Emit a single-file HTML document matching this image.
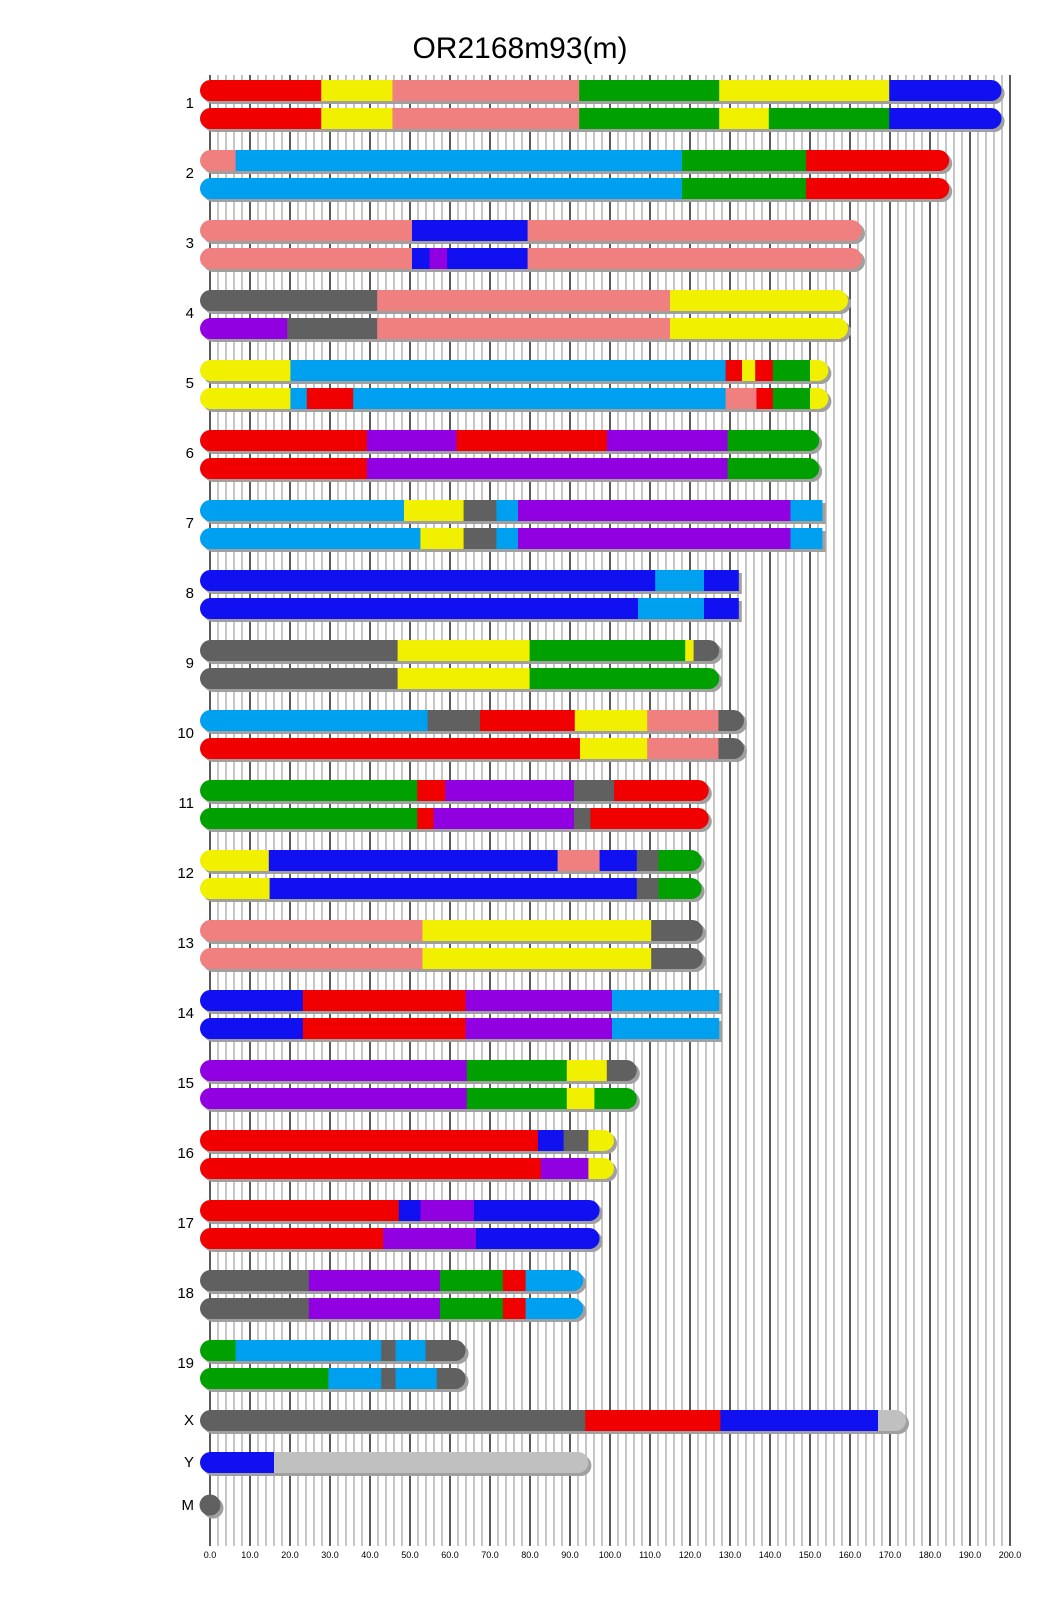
<!DOCTYPE html>
<html><head><meta charset="utf-8"><style>
html,body{margin:0;padding:0;background:#fff;}
svg{display:block;font-family:"Liberation Sans",sans-serif;}
</style></head><body>
<svg id="s" width="1040" height="1616" viewBox="0 0 1040 1616" xmlns="http://www.w3.org/2000/svg">
<g id="grid"></g>
<g id="bars"></g>
<text x="520" y="58" font-size="30" text-anchor="middle" fill="#000">OR2168m93(m)</text>
<g font-size="15" text-anchor="end" fill="#000">
<text x="194" y="108">1</text><text x="194" y="178">2</text><text x="194" y="248">3</text><text x="194" y="318">4</text>
<text x="194" y="388">5</text><text x="194" y="458">6</text><text x="194" y="528">7</text><text x="194" y="598">8</text>
<text x="194" y="668">9</text><text x="194" y="738">10</text><text x="194" y="808">11</text><text x="194" y="878">12</text>
<text x="194" y="948">13</text><text x="194" y="1018">14</text><text x="194" y="1088">15</text><text x="194" y="1158">16</text>
<text x="194" y="1228">17</text><text x="194" y="1298">18</text><text x="194" y="1368">19</text>
<text x="194" y="1425">X</text><text x="194" y="1467">Y</text><text x="194" y="1510">M</text>
</g>
<g font-size="9" text-anchor="middle" fill="#000">
<text x="210" y="1558">0.0</text><text x="250" y="1558">10.0</text><text x="290" y="1558">20.0</text><text x="330" y="1558">30.0</text>
<text x="370" y="1558">40.0</text><text x="410" y="1558">50.0</text><text x="450" y="1558">60.0</text><text x="490" y="1558">70.0</text>
<text x="530" y="1558">80.0</text><text x="570" y="1558">90.0</text><text x="610" y="1558">100.0</text><text x="650" y="1558">110.0</text>
<text x="690" y="1558">120.0</text><text x="730" y="1558">130.0</text><text x="770" y="1558">140.0</text><text x="810" y="1558">150.0</text>
<text x="850" y="1558">160.0</text><text x="890" y="1558">170.0</text><text x="930" y="1558">180.0</text><text x="970" y="1558">190.0</text>
<text x="1010" y="1558">200.0</text>
</g>
</svg>
<script>
var NS="http://www.w3.org/2000/svg";
function el(t,a,p){var e=document.createElementNS(NS,t);for(var k in a)e.setAttribute(k,a[k]);p.appendChild(e);return e;}
var grid=document.getElementById('grid');
for(var u=0;u<=200;u+=2){var x=210+u*4;var major=(u%10===0);
 el('line',{x1:x,x2:x,y1:75,y2:1546,stroke:major?'#000':'#a8a8a8','stroke-width':1.3},grid);}
var C={r:'#f00000',y:'#f0f000',s:'#f08080',g:'#00a000',b:'#1010f0',k:'#00a0f0',p:'#9000e0',d:'#606060',l:'#c0c0c0'};
var rows=[
[80,1,[['r',27.8],['y',45.6],['s',92.3],['g',127.3],['y',169.8],['b',197.9]]],
[108,1,[['r',27.8],['y',45.6],['s',92.3],['g',127.3],['y',139.7],['g',169.8],['b',197.9]]],
[150,1,[['s',6.4],['k',118],['g',149],['r',184.8]]],
[178,1,[['k',118],['g',149],['r',184.8]]],
[220,1,[['s',50.5],['b',79.4],['s',163]]],
[248,1,[['s',50.5],['b',54.9],['p',59.3],['b',79.4],['s',163]]],
[290,1,[['d',41.8],['s',115],['y',159.5]]],
[318,1,[['p',19.3],['d',41.8],['s',115],['y',159.5]]],
[360,1,[['y',20.1],['k',128.9],['r',133],['y',136.3],['r',140.7],['g',150],['y',154.6]]],
[388,1,[['y',20.1],['k',24.2],['r',35.8],['k',128.9],['s',136.6],['r',140.7],['g',150],['y',154.6]]],
[430,1,[['r',39.2],['p',61.6],['r',99.2],['p',129.4],['g',152.3]]],
[458,1,[['r',39.2],['p',129.4],['g',152.3]]],
[500,0,[['k',48.5],['y',63.4],['d',71.6],['k',77],['p',145.1],['k',153.1]]],
[528,0,[['k',52.6],['y',63.4],['d',71.6],['k',77],['p',145.1],['k',153.1]]],
[570,0,[['b',111.3],['k',123.5],['b',132.2]]],
[598,0,[['b',107],['k',123.5],['b',132.2]]],
[640,1,[['d',46.9],['y',79.9],['g',118.8],['y',120.9],['d',127.3]]],
[668,1,[['d',46.9],['y',79.9],['g',127.3]]],
[710,1,[['k',54.4],['d',67.5],['r',91.2],['y',109.3],['s',127.1],['d',133.5]]],
[738,1,[['r',92.5],['y',109.3],['s',127.1],['d',133.5]]],
[780,1,[['g',51.8],['r',58.8],['p',91],['d',101],['r',124.7]]],
[808,1,[['g',51.8],['r',55.9],['p',91],['d',95.1],['r',124.7]]],
[850,1,[['y',14.7],['b',86.9],['s',97.4],['b',106.7],['d',112.1],['g',122.9]]],
[878,1,[['y',14.9],['b',106.7],['d',112.1],['g',122.9]]],
[920,1,[['s',53.1],['y',110.3],['d',123.2]]],
[948,1,[['s',53.1],['y',110.3],['d',123.2]]],
[990,0,[['b',23.2],['r',63.9],['p',100.5],['k',127.3]]],
[1018,0,[['b',23.2],['r',63.9],['p',100.5],['k',127.3]]],
[1060,1,[['p',64.2],['g',89.2],['y',99.2],['d',106.7]]],
[1088,1,[['p',64.2],['g',89.2],['y',96.1],['g',106.7]]],
[1130,1,[['r',82],['b',88.4],['d',94.6],['y',101]]],
[1158,1,[['r',82.7],['p',94.6],['y',101]]],
[1200,1,[['r',47.2],['b',52.6],['p',66],['b',97.4]]],
[1228,1,[['r',43.3],['p',66.5],['b',97.4]]],
[1270,1,[['d',24.7],['p',57.5],['g',73.2],['r',78.9],['k',93.3]]],
[1298,1,[['d',24.7],['p',57.5],['g',73.2],['r',78.9],['k',93.3]]],
[1340,1,[['g',6.4],['k',42.8],['d',46.4],['k',53.9],['d',63.9]]],
[1368,1,[['g',29.6],['k',42.8],['d',46.4],['k',56.7],['d',63.9]]],
[1410,1,[['d',93.8],['r',127.6],['b',167],['l',174]]],
[1452,1,[['b',16],['l',94.6]]]
];
var bars=document.getElementById('bars');var H=21;var L=200;
rows.forEach(function(r,i){
 var y=r[0],round=r[1],segs=r[2];var end=210+segs[segs.length-1][1]*4;
 var id='c'+i;var cp=el('clipPath',{id:id},bars);
 var d='M'+(L+10.5)+','+y+' H'+(round?end-10.5:end)+(round?' A10.5,10.5 0 0 1 '+(end-10.5)+','+(y+H):' V'+(y+H))+' H'+(L+10.5)+' A10.5,10.5 0 0 1 '+(L+10.5)+','+y+' Z';
 el('path',{d:d},cp);
 el('path',{d:d,fill:'#a0a0a0',transform:'translate(3,3)'},bars);
 var g=el('g',{'clip-path':'url(#'+id+')'},bars);
 var s=0;segs.forEach(function(q,j){var x0=j===0?L:210+s*4;el('rect',{x:x0,y:y,width:210+q[1]*4-x0+0.5,height:H,fill:C[q[0]]},g);s=q[1];});
});
el('circle',{cx:213,cy:1508,r:10.5,fill:'#a0a0a0'},bars);
el('circle',{cx:210,cy:1505,r:10.5,fill:'#606060'},bars);
</script>
</body></html>
